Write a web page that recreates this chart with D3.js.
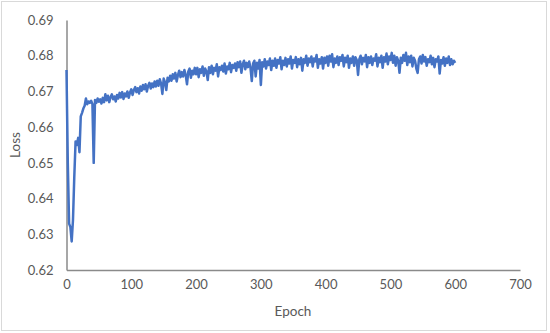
<!DOCTYPE html>
<html>
<head>
<meta charset="utf-8">
<script src="https://cdn.jsdelivr.net/npm/d3@7"></script>
<style>
  body { margin: 0; background: #fff; }
  svg text { font-family: Lato, "Open Sans", sans-serif; fill: #595959; }
</style>
</head>
<body>
<svg id="chart" width="550" height="333"></svg>
<script>
// loss values, one per two epochs
const epochs = d3.range(0, 601, 2)
const loss = [
  0.676, 0.650, 0.633, 0.632, 0.628, 0.634, 0.646, 0.656, 0.655, 0.657,
  0.653, 0.663, 0.664, 0.6652, 0.6660, 0.6680, 0.6664, 0.6672, 0.6668, 0.6674,
  0.6665, 0.6500, 0.6676, 0.6668, 0.6680, 0.6671, 0.6678, 0.6666, 0.6682, 0.6670,
  0.6692, 0.6675, 0.6688, 0.6670, 0.6684, 0.6692, 0.6678, 0.6686, 0.6672, 0.6690,
  0.6680, 0.6696, 0.6683, 0.6698, 0.6679, 0.6694, 0.6686, 0.6700, 0.6682, 0.6697,
  0.6706, 0.6690, 0.6704, 0.6712, 0.6698, 0.6709, 0.6694, 0.6714, 0.6702, 0.6718,
  0.6706, 0.6720, 0.6700, 0.6716, 0.6724, 0.6708, 0.6722, 0.6712, 0.6728, 0.6714,
  0.6730, 0.6716, 0.6734, 0.6722, 0.6693, 0.6736, 0.6726, 0.6704, 0.6738, 0.6728,
  0.6744, 0.6730, 0.6748, 0.6736, 0.6752, 0.6728, 0.6746, 0.6758, 0.6740, 0.6754,
  0.6742, 0.6760, 0.6746, 0.6720, 0.6756, 0.6764, 0.6738, 0.6758, 0.6748, 0.6766,
  0.6748, 0.6766, 0.6740, 0.6762, 0.6752, 0.6770, 0.6744, 0.6764, 0.6756, 0.6732,
  0.6768, 0.6752, 0.6772, 0.6748, 0.6766, 0.6758, 0.6776, 0.6742, 0.6768, 0.6760,
  0.6772, 0.6756, 0.6778, 0.6750, 0.6770, 0.6762, 0.6780, 0.6754, 0.6774, 0.6766,
  0.6778, 0.6758, 0.6782, 0.6768, 0.6784, 0.6752, 0.6776, 0.6786, 0.6762, 0.6780,
  0.6768, 0.6784, 0.6766, 0.6729, 0.6778, 0.6786, 0.6742, 0.6780, 0.6764, 0.6788,
  0.6718, 0.6782, 0.6770, 0.6790, 0.6764, 0.6784, 0.6774, 0.6792, 0.6760, 0.6786,
  0.6772, 0.6792, 0.6766, 0.6788, 0.6778, 0.6796, 0.6762, 0.6786, 0.6774, 0.6794,
  0.6770, 0.6790, 0.6778, 0.6798, 0.6764, 0.6788, 0.6780, 0.6796, 0.6768, 0.6790,
  0.6776, 0.6794, 0.6758, 0.6790, 0.6780, 0.6800, 0.6772, 0.6792, 0.6782, 0.6798,
  0.6770, 0.6792, 0.6784, 0.6802, 0.6766, 0.6790, 0.6778, 0.6796, 0.6764, 0.6794,
  0.6780, 0.6798, 0.6772, 0.6800, 0.6784, 0.6804, 0.6768, 0.6792, 0.6780, 0.6798,
  0.6774, 0.6796, 0.6786, 0.6802, 0.6770, 0.6794, 0.6782, 0.6800, 0.6766, 0.6792,
  0.6780, 0.6798, 0.6772, 0.6796, 0.6788, 0.6746, 0.6790, 0.6800, 0.6776, 0.6794,
  0.6784, 0.6802, 0.6768, 0.6796, 0.6780, 0.6798, 0.6774, 0.6792, 0.6786, 0.6804,
  0.6770, 0.6794, 0.6782, 0.6800, 0.6766, 0.6796, 0.6784, 0.6806, 0.6776, 0.6798,
  0.6788, 0.6808, 0.6780, 0.6800, 0.6772, 0.6796, 0.6786, 0.6752, 0.6794, 0.6780,
  0.6802, 0.6786, 0.6808, 0.6774, 0.6798, 0.6782, 0.6800, 0.6770, 0.6794, 0.6786,
  0.6764, 0.6752, 0.6790, 0.6798, 0.6778, 0.6802, 0.6784, 0.6796, 0.6772, 0.6790,
  0.6782, 0.6800, 0.6776, 0.6794, 0.6768, 0.6790, 0.6784, 0.6798, 0.6750, 0.6788,
  0.6778, 0.6796, 0.6772, 0.6792, 0.6780, 0.6798, 0.6774, 0.6790, 0.6776, 0.6786,
  0.6780
]
const xTicks = [0, 100, 200, 300, 400, 500, 600, 700]
const yTicks = [0.62, 0.63, 0.64, 0.65, 0.66, 0.67, 0.68, 0.69]

const svg = d3.select('#chart')

// outer chart border
svg.append('rect')
    .attr('x', 1.5).attr('y', 1.5)
    .attr('width', 545).attr('height', 329)
    .attr('fill', '#fff')
    .attr('stroke', '#d9d9d9')

const x = d3.scaleLinear()
    .domain([0, 700])
    .range([66.5, 520])
const y = d3.scaleLinear()
    .domain([0.62, 0.69])
    .range([270, 20])

// x axis
const xaxis = d3.axisBottom(x).tickValues(xTicks).tickSize(0).tickPadding(10)
const gx = svg.append('g')
    .attr('transform', 'translate(0, 270)')
    .call(xaxis)
gx.select('.domain').attr('stroke', '#8a8a8a').attr('stroke-width', 1.5)
gx.selectAll('text').style('font-size', '13px')

// y axis
const yaxis = d3.axisLeft(y).tickValues(yTicks).tickSize(0).tickPadding(13)
    .tickFormat(d3.format('.2f'))
const gy = svg.append('g')
    .attr('transform', 'translate(66.5, 0)')
    .call(yaxis)
gy.select('.domain').attr('stroke', '#8a8a8a').attr('stroke-width', 1.5)
gy.selectAll('text').style('font-size', '13px')

// axis titles
svg.append('text')
    .attr('x', 293).attr('y', 316)
    .attr('text-anchor', 'middle')
    .style('font-size', '13.5px')
    .text('Epoch')
svg.append('text')
    .attr('transform', 'translate(20, 145) rotate(-90)')
    .attr('text-anchor', 'middle')
    .style('font-size', '13.5px')
    .text('Loss')

// loss line
const line = d3.line()
    .x((d, i) => x(epochs[i]))
    .y(d => y(d))
svg.append('path')
    .datum(loss)
    .attr('d', line)
    .attr('fill', 'none')
    .attr('stroke', '#4472c4')
    .attr('stroke-width', 2.5)
    .attr('stroke-linejoin', 'round')
</script>
</body>
</html>
